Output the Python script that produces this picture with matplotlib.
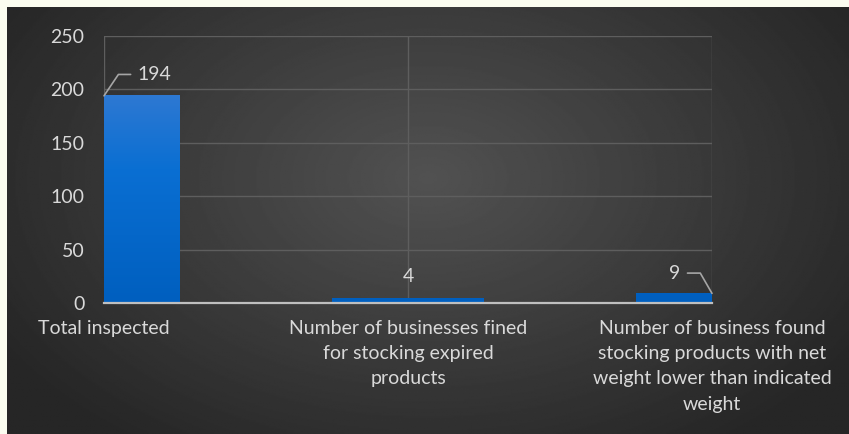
import matplotlib
matplotlib.use("Agg")
import matplotlib.pyplot as plt
import numpy as np

categories = [
    "Total inspected",
    "Number of businesses fined\nfor stocking expired\nproducts",
    "Number of business found\nstocking products with net\nweight lower than indicated\nweight",
]
values = [194, 4, 9]
yticks = [0, 50, 100, 150, 200, 250]

W, H = 849, 434
TXT = "#d9d9d9"
FS = 14
plt.rcParams["font.family"] = ["Lato", "DejaVu Sans"]

fig = plt.figure(figsize=(W / 100, H / 100), dpi=100)
fig.patch.set_facecolor("#fbfdf0")

# dark radial background panel, lighter towards upper centre
bg = fig.add_axes([7 / W, 0, 1 - 7 / W, 1 - 7 / H])
bg.set_axis_off()
yy, xx = np.mgrid[0:1:300j, 0:1:600j]
r = np.sqrt(((xx - 0.5) / 0.7) ** 2 + ((yy - 0.4) / 0.9) ** 2)
shade = np.clip(0.32 - 0.2 * r, 0.15, 0.33)
bg.imshow(shade, cmap="gray", vmin=0, vmax=1, aspect="auto", extent=[0, 1, 0, 1])
bg.set_xlim(0, 1)
bg.set_ylim(0, 1)

ax = fig.add_axes([104 / W, (H - 303) / H, 608 / W, 267 / H])
ax.patch.set_alpha(0)
x = np.arange(len(values))
ax.set_xlim(0, 2)
ax.set_ylim(0, 250)
bars = ax.bar(x, values, width=0.5, color="none", zorder=3)

# vertical blue gradient on each bar (kept inside the plot area)
cmap = matplotlib.colors.LinearSegmentedColormap.from_list(
    "b", ["#005fbf", "#0a6fd3", "#4a80d2"])
xmin, xmax = ax.get_xlim()
ymax = ax.get_ylim()[1]
for b in bars:
    h = b.get_height()
    x0 = max(b.get_x(), xmin)
    x1 = min(b.get_x() + b.get_width(), xmax)
    grad = np.linspace(0, h / ymax, 200).reshape(-1, 1)
    ax.imshow(grad, cmap=cmap, vmin=0, vmax=1, aspect="auto", origin="lower",
              extent=[x0, x1, 0, h], zorder=3, interpolation="bilinear")
ax.set_xlim(0, 2)
ax.set_ylim(0, 250)

ax.set_yticks(yticks)
ax.set_xticks(x)
ax.set_xticklabels(categories, linespacing=1.6, va="top")
ax.tick_params(axis="both", length=0, colors=TXT, labelsize=FS)
ax.tick_params(axis="y", pad=14)
ax.tick_params(axis="x", pad=12)
ax.grid(True, color="#5e5e5e", linewidth=1, zorder=0)
for s in ["top", "right", "left"]:
    ax.spines[s].set_visible(False)
ax.spines["bottom"].set_color("#bfbfbf")
ax.spines["bottom"].set_linewidth(1.6)
ax.spines["bottom"].set_zorder(4)

lead = dict(arrowstyle="-", color="#a6a6a6", lw=1.2, shrinkA=3, shrinkB=0)
ax.annotate(str(values[0]), xy=(0, values[0]), xytext=(0.166, 214),
            color=TXT, fontsize=FS, ha="center", va="center",
            arrowprops=dict(lead, relpos=(0, 0.5),
                            connectionstyle="angle,angleA=0,angleB=56,rad=0"))
ax.annotate(str(values[1]), xy=(1, values[1]), xytext=(1, 25),
            color=TXT, fontsize=FS, ha="center", va="center")
ax.annotate(str(values[2]), xy=(2, values[2]), xytext=(1.878, 28),
            color=TXT, fontsize=FS, ha="center", va="center",
            arrowprops=dict(lead, relpos=(1, 0.5),
                            connectionstyle="angle,angleA=0,angleB=-60,rad=0"))

fig.savefig("out.png", dpi=100, facecolor=fig.get_facecolor())
